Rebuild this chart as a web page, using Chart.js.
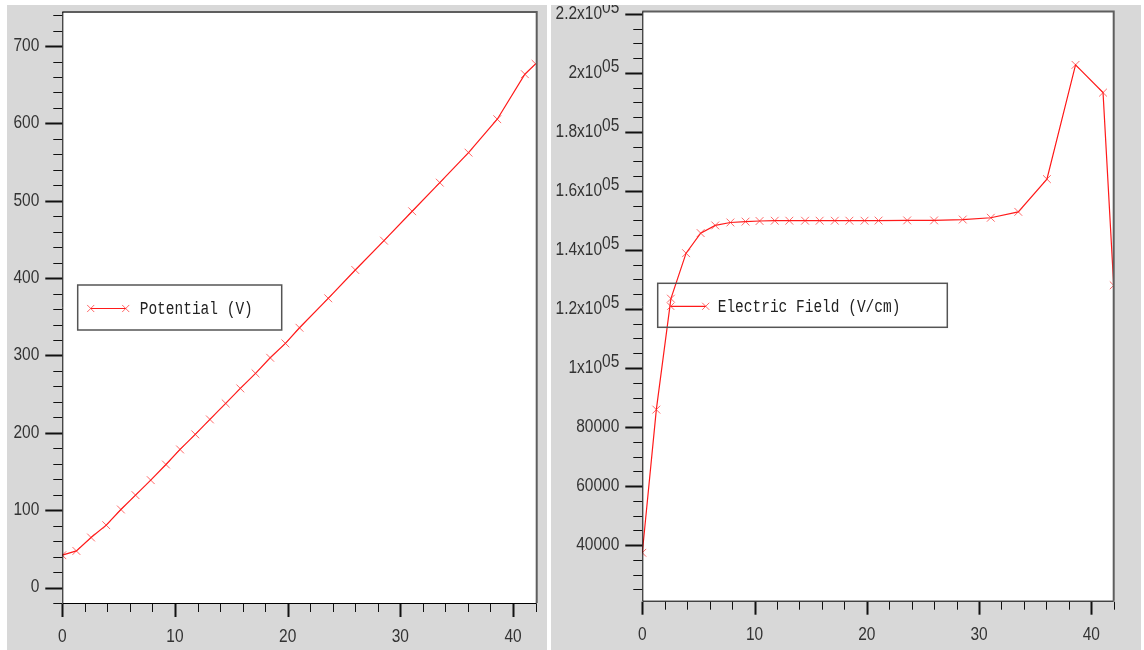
<!DOCTYPE html>
<html>
<head>
<meta charset="utf-8">
<title>Potential and Electric Field</title>
<script src="https://cdn.jsdelivr.net/npm/chart.js@4.4.1/dist/chart.umd.min.js"></script>
<style>
  html, body { margin: 0; padding: 0; background: #fff; }
  body { width: 1144px; height: 650px; position: relative; overflow: hidden; }
  .panel { position: absolute; top: 5px; height: 645px; background: #d8d8d8; }
  .panel canvas { position: absolute; left: 0; top: 0; }
  #leftPanel { left: 7px; width: 540px; }
  #rightPanel { left: 551px; width: 590px; }
</style>
</head>
<body>
<div class="panel" id="leftPanel"><canvas id="potentialChart" width="540" height="645"></canvas></div>
<div class="panel" id="rightPanel"><canvas id="fieldChart" width="590" height="645"></canvas></div>
<script>
// depth positions shared by both curves
const position = [0, 1.25, 2.55, 3.9, 5.2, 6.5, 7.85, 9.2, 10.45, 11.8, 13.1, 14.5, 15.8, 17.15,
                  18.45, 19.8, 21.05, 23.6, 26.0, 28.55, 31.05, 33.5, 36.05, 38.6, 41.05, 42.0];

const potential = [41.8, 47.3, 64.7, 80.6, 100.9, 119.4, 138.8, 159, 178.5, 198, 217.3, 238, 257.4, 276.8,
                   297, 315.6, 335.8, 373.9, 410.5, 448.4, 486.4, 523.4, 562.2, 605.4, 663.6, 677];

const field = [37400, 85900, 123500, 138900, 145700, 148300, 149300, 149600, 149800, 149900, 149900, 149900,
               149900, 149900, 149900, 149900, 149950, 150000, 150000, 150300, 150900, 152900, 164000,
               202700, 193300, 128000];

const xTicks = [0, 10, 20, 30, 40];
const potentialTicks = [0, 100, 200, 300, 400, 500, 600, 700];
const fieldTicks = [40000, 60000, 80000, 100000, 120000, 140000, 160000, 180000, 200000, 220000];
const fieldTickLabels = ['40000', '60000', '80000', '1x10^05', '1.2x10^05', '1.4x10^05',
                         '1.6x10^05', '1.8x10^05', '2x10^05', '2.2x10^05'];

const LABEL_FONT = '18px "Liberation Sans", sans-serif';
const LABEL_SQUEEZE = 0.86;
const LEGEND_FONT = '14.5px "Liberation Mono", "DejaVu Sans Mono", monospace';
const RED = '#ff1a1a';
const MARK = 'rgba(255, 40, 40, 0.7)';

// narrow tick label: drawn with a horizontal squeeze, right edge or centre at x
function squeezedText(ctx, text, x, y, align) {
  const w = ctx.measureText(text).width * LABEL_SQUEEZE;
  const left = align === 'center' ? x - w / 2 : align === 'right' ? x - w : x;
  ctx.save();
  ctx.translate(left, y);
  ctx.scale(LABEL_SQUEEZE, 1);
  ctx.textAlign = 'left';
  ctx.fillText(text, 0, 0);
  ctx.restore();
  return w;
}

// white plot area, frame, tick marks, tick labels and the boxed legend
const plotFrame = {
  id: 'plotFrame',
  beforeDraw(chart) {
    const { ctx, chartArea: a } = chart;
    ctx.save();
    ctx.fillStyle = '#fff';
    ctx.fillRect(a.left, a.top, a.right - a.left, a.bottom - a.top);
    ctx.restore();
  },
  afterDraw(chart, args, opts) {
    const { ctx, chartArea: a } = chart;
    const xs = chart.scales.x, ys = chart.scales.y;
    ctx.save();

    ctx.strokeStyle = '#5e5e5e';
    ctx.lineWidth = 2;
    ctx.beginPath();
    ctx.moveTo(a.left, a.top);
    ctx.lineTo(a.right, a.top);
    ctx.lineTo(a.right, a.bottom);
    ctx.stroke();

    ctx.strokeStyle = '#000';
    ctx.lineWidth = 1;
    ctx.beginPath();
    ctx.moveTo(a.left + 0.5, a.top);
    ctx.lineTo(a.left + 0.5, a.bottom + 0.5);
    ctx.lineTo(a.right, a.bottom + 0.5);
    ctx.stroke();

    // y ticks
    ctx.strokeStyle = '#111';
    for (let k = Math.ceil(ys.min / opts.yMinor); k * opts.yMinor <= ys.max; k++) {
      const v = k * opts.yMinor;
      const py = Math.round(ys.getPixelForValue(v)) + 0.5;
      const major = v % opts.yMajor === 0;
      ctx.lineWidth = major ? 2 : 1;
      ctx.beginPath();
      ctx.moveTo(a.left - (major ? 17 : 9), py);
      ctx.lineTo(a.left, py);
      ctx.stroke();
    }
    // x ticks
    for (let k = 0; k * 2 <= xs.max; k++) {
      const v = k * 2;
      const px = Math.round(xs.getPixelForValue(v)) + 0.5;
      const major = v % 10 === 0;
      ctx.lineWidth = major ? 2 : 1;
      ctx.beginPath();
      ctx.moveTo(px, a.bottom + 1);
      ctx.lineTo(px, a.bottom + (major ? 14 : 9));
      ctx.stroke();
    }

    ctx.fillStyle = '#333';
    ctx.font = LABEL_FONT;
    ctx.textBaseline = 'middle';
    xTicks.forEach(v => squeezedText(ctx, String(v), xs.getPixelForValue(v), a.bottom + 34, 'center'));

    opts.yValues.forEach((v, i) => {
      const [base, sup] = opts.yLabels[i].split('^');
      const py = ys.getPixelForValue(v);
      const right = a.left - 23;
      if (sup) {
        const ws = squeezedText(ctx, sup, right, py - 6, 'right');
        squeezedText(ctx, base, right - ws, py, 'right');
      } else {
        squeezedText(ctx, base, right, py, 'right');
      }
    });

    // legend
    const L = opts.legend;
    const ds = chart.data.datasets[0];
    ctx.strokeStyle = '#555';
    ctx.lineWidth = 1.5;
    ctx.strokeRect(L.x, L.y, L.w, L.h);
    const cy = L.y + L.h / 2 + 1;
    ctx.strokeStyle = ds.borderColor;
    ctx.lineWidth = 1.2;
    ctx.beginPath();
    ctx.moveTo(L.x + 13, cy);
    ctx.lineTo(L.x + 48, cy);
    ctx.stroke();
    ctx.strokeStyle = MARK;
    ctx.lineWidth = 1;
    [L.x + 13, L.x + 48].forEach(px =>
      Chart.helpers.drawPoint(ctx, { pointStyle: 'crossRot', radius: 5, rotation: 0, borderWidth: 1 }, px, cy));

    ctx.fillStyle = '#222';
    ctx.font = LEGEND_FONT;
    ctx.textAlign = 'left';
    ctx.translate(L.x + L.textX, cy + 1);
    ctx.scale(1, 1.3);
    ctx.fillText(ds.label, 0, 0);
    ctx.restore();
  }
};

function makeChart(id, label, values, yRange, xMax, padding, frameOpts) {
  return new Chart(document.getElementById(id), {
    type: 'line',
    data: {
      datasets: [{
        label: label,
        data: position.map((p, i) => ({ x: p, y: values[i] })),
        borderColor: RED,
        borderWidth: 1.2,
        tension: 0,
        pointStyle: 'crossRot',
        pointRadius: 5.5,
        pointBorderColor: MARK,
        pointBorderWidth: 1,
        pointBackgroundColor: 'transparent',
        clip: 0
      }]
    },
    options: {
      responsive: false,
      animation: false,
      layout: { padding: padding },
      plugins: { legend: { display: false }, tooltip: { enabled: false }, plotFrame: frameOpts },
      scales: {
        x: { type: 'linear', min: 0, max: xMax, display: false },
        y: { type: 'linear', min: yRange[0], max: yRange[1], display: false }
      }
    },
    plugins: [plotFrame]
  });
}

makeChart('potentialChart', 'Potential (V)', potential, [-20, 744], 42.1,
  { left: 55.3, top: 7, right: 10.3, bottom: 47 },
  { yMinor: 20, yMajor: 100, yValues: potentialTicks, yLabels: potentialTicks.map(String),
    legend: { x: 70.7, y: 280, w: 204, h: 45, textX: 62 } });

makeChart('fieldChart', 'Electric Field (V/cm)', field, [21160, 220780], 42.0,
  { left: 91.3, top: 6, right: 27.3, bottom: 49.3 },
  { yMinor: 5000, yMajor: 20000, yValues: fieldTicks, yLabels: fieldTickLabels,
    legend: { x: 106.7, y: 278.3, w: 289.6, h: 44, textX: 60 } });
</script>
</body>
</html>
